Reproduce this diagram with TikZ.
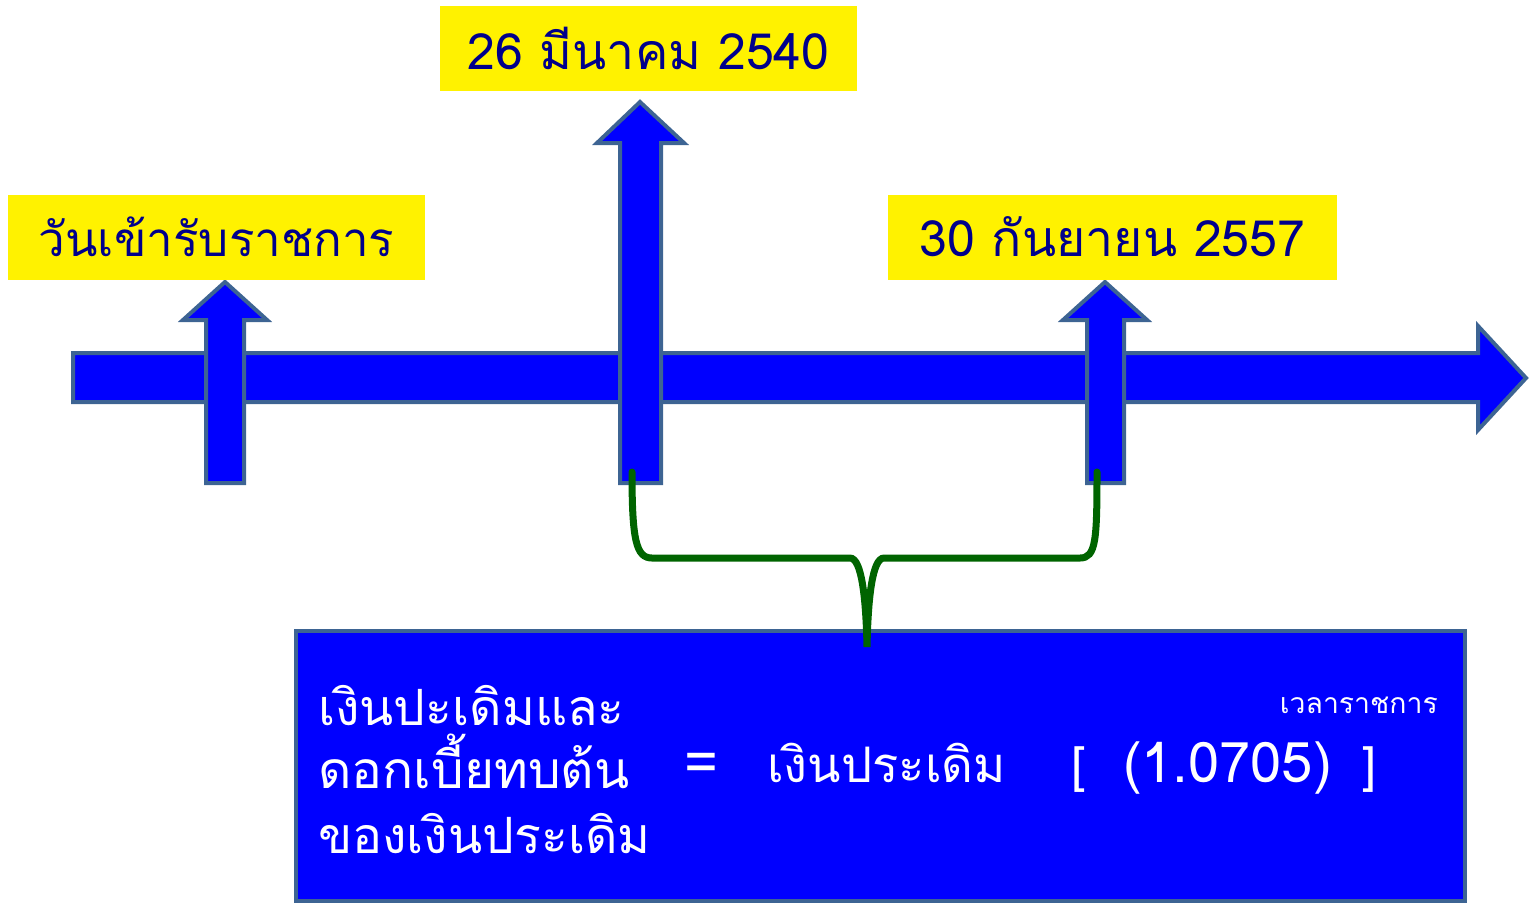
\documentclass[tikz,border=0pt]{standalone}
\usepackage{fontspec}
\usepackage{xcolor}
\newfontfamily\thaifont[Script=Thai]{Loma}
\usetikzlibrary{positioning}
\definecolor{navytext}{HTML}{00008B}
\definecolor{arrowblue}{HTML}{0000FF}
\definecolor{edgeblue}{HTML}{3D6493}
\definecolor{bracegreen}{HTML}{006400}

\begin{document}
\begin{tikzpicture}
		[x=1pt,y=-1pt,
		datebox/.style={rectangle,fill=yellow,text=navytext,inner sep=0pt,minimum height=85pt,font=\thaifont\fontsize{50}{60}\selectfont},
		arrowfill/.style={fill=arrowblue,draw=edgeblue,line width=4pt,line join=miter},
		formula/.style={rectangle,fill=arrowblue,draw=edgeblue,line width=4pt,inner sep=0pt},
		boxtext/.style={text=white,inner sep=0pt,anchor=base west,font=\thaifont\fontsize{50}{56}\selectfont},
		bracket/.style={draw=bracegreen,line width=7pt,line cap=round}]
		\useasboundingbox (0,0) rectangle (1531,903);

		% time line
		\draw [arrowfill] (73,353) -- (1478,353) -- (1478,326) -- (1526,378) -- (1478,430) -- (1478,402) -- (73,402) -- cycle;
		\draw [arrowfill] (206,483) -- (206,320) -- (183,320) -- (225,282) -- (267,320) -- (244,320) -- (244,483) -- cycle;
		\draw [arrowfill] (620,483) -- (620,143) -- (597,143) -- (640,102) -- (684,143) -- (661,143) -- (661,483) -- cycle;
		\draw [arrowfill] (1087,483) -- (1087,320) -- (1063,320) -- (1105,282) -- (1147,320) -- (1124,320) -- (1124,483) -- cycle;

		\node [datebox,minimum width=417pt,font=\thaifont\fontsize{47.5}{60}\selectfont] (d1) at (216.5,237) {วันเข้ารับราชการ};
		\node [datebox,minimum width=417pt] (d2) at (648.5,48.5) {26 มีนาคม 2540};
		\node [datebox,minimum width=449pt] (d3) at (1112.5,237) {30 กันยายน 2557};

		% formula box
		\node [formula,minimum width=1169pt,minimum height=270pt] (box) at (880.5,766) {};
		\node [boxtext] (l1) at (318,725) {เงินปะเดิมและ};
		\node [boxtext,font=\thaifont\fontsize{51.5}{56}\selectfont] (l2) at (318,788) {ดอกเบี้ยทบต้น};
		\node [boxtext] (l3) at (318,853) {ของเงินประเดิม};
		\node [boxtext,font=\thaifont\fontsize{58}{56}\selectfont] (eq) at (684,782) {=};
		\node [boxtext,font=\thaifont\fontsize{49}{56}\selectfont] (fund) at (767,782) {เงินประเดิม};
		\node [boxtext] (lb) at (1071,782) {[};
		\node [boxtext,font=\thaifont\fontsize{56}{56}\selectfont] (rate) at (1123,782) {(1.0705)};
		\node [boxtext] (rb) at (1362,782) {]};
		\node [boxtext,anchor=base east,font=\thaifont\fontsize{28.4}{30}\selectfont] (pow) at (1438,713) {เวลาราชการ};

		% brace
		\coordinate (f2) at (632,472);
		\coordinate (f3) at (1097,472);
		\draw [bracket] (f2) .. controls (632,540) and (636,558) .. (652,558) -- (850,558)
			.. controls (862,558) and (866,600) .. (867,647)
			.. controls (868,600) and (872,558) .. (884,558) -- (1080,558)
			.. controls (1096,558) and (1097,540) .. (f3);

	\end{tikzpicture}
\end{document}
